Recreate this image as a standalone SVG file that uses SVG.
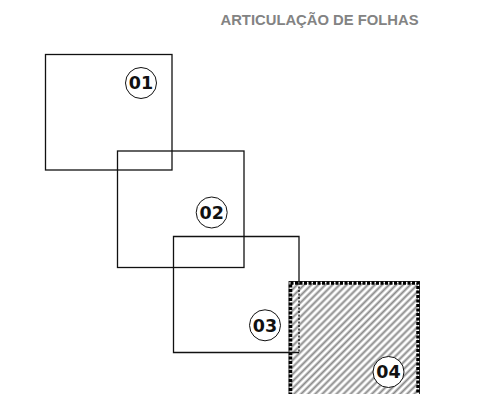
<svg xmlns="http://www.w3.org/2000/svg" width="477" height="394" viewBox="0 0 477 394">
<style>
.sheet{fill:none;stroke:#111;stroke-width:1.3}
.badge{fill:#fff;stroke:#111;stroke-width:1}
.num{font-family:"DejaVu Sans",sans-serif;font-weight:bold;font-size:17.5px;fill:#111;text-anchor:middle}
.title{font-family:"Liberation Sans",Arial,sans-serif;font-weight:bold;font-size:14.8px;fill:#838383}
</style>
<defs>
<pattern id="hatch" patternUnits="userSpaceOnUse" width="5" height="5" patternTransform="rotate(45)">
<rect width="5" height="5" fill="#fff"/>
<line x1="1.5" y1="0" x2="1.5" y2="5" stroke="#8a8a8a" stroke-width="2"/>
</pattern>
</defs>
<rect width="477" height="394" fill="#fff"/>
<text class="title" x="220.5" y="25">ARTICULAÇÃO DE FOLHAS</text>
<g id="sheet04">
<rect x="290.5" y="283" width="127.5" height="120" fill="url(#hatch)"/>
<rect x="290.5" y="283" width="127.5" height="120" fill="none" stroke="#000" stroke-width="3.5" stroke-dasharray="3 1.5"/>
<rect x="289" y="281.5" width="130.5" height="123" fill="none" stroke="#000" stroke-width="0.8"/>
<circle class="badge" cx="388.5" cy="372" r="15.5"/>
<text class="num" x="388.5" y="378.3">04</text>
</g>
<g id="sheet01">
<rect class="sheet" x="45.5" y="54.5" width="126.5" height="115.5"/>
<circle class="badge" cx="141" cy="83" r="15.5"/>
<text class="num" x="141" y="89.3">01</text>
</g>
<g id="sheet02">
<rect class="sheet" x="117.5" y="151" width="126.5" height="116.5"/>
<circle class="badge" cx="211.7" cy="212.5" r="15.5"/>
<text class="num" x="211.7" y="218.8">02</text>
</g>
<g id="sheet03">
<path class="sheet" d="M299,283 V236.5 H173.5 V352.5 H299"/>
<line x1="299" y1="283" x2="299" y2="352.5" stroke="#111" stroke-width="1.3" stroke-dasharray="2 1.5"/>
<circle class="badge" cx="265" cy="325.3" r="15.5"/>
<text class="num" x="265" y="331.6">03</text>
</g>
</svg>
